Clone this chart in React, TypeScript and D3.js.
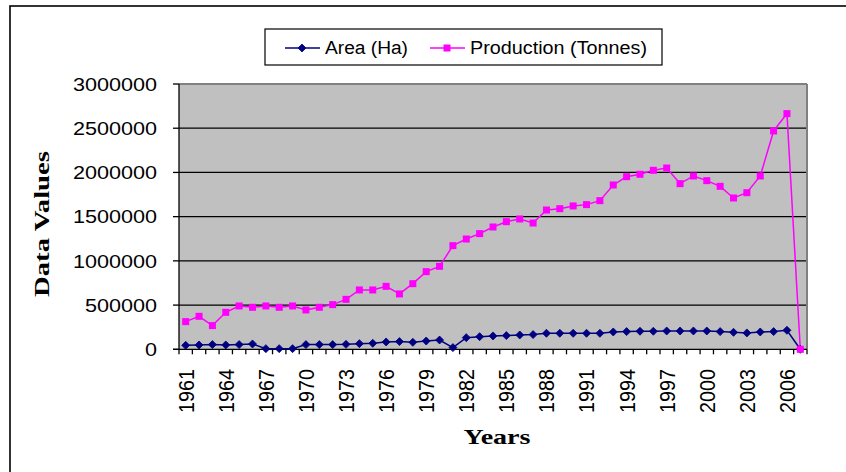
import React from "react";
import * as d3 from "d3";

const years: number[] = [
  1961, 1962, 1963, 1964, 1965, 1966, 1967, 1968, 1969, 1970,
  1971, 1972, 1973, 1974, 1975, 1976, 1977, 1978, 1979, 1980,
  1981, 1982, 1983, 1984, 1985, 1986, 1987, 1988, 1989, 1990,
  1991, 1992, 1993, 1994, 1995, 1996, 1997, 1998, 1999, 2000,
  2001, 2002, 2003, 2004, 2005, 2006, 2007,
];

const areaHa: number[] = [
  45000, 49000, 53000, 49000, 53000, 60000, 7500, 7500, 7500, 53000,
  53000, 53000, 56000, 64000, 68000, 83000, 87000, 79000, 94000, 105000,
  19000, 132000, 143000, 151000, 155000, 162000, 166000, 181000, 181000, 181000,
  181000, 181000, 196000, 200000, 204000, 204000, 207000, 207000, 207000, 207000,
  200000, 192000, 185000, 196000, 200000, 215000, 0,
];

const productionTonnes: number[] = [
  313000, 373000, 268000, 418000, 490000, 475000, 490000, 475000, 490000, 445000,
  475000, 505000, 565000, 671000, 671000, 712000, 626000, 742000, 878000, 938000,
  1172000, 1247000, 1308000, 1383000, 1443000, 1474000, 1428000, 1575000, 1590000, 1621000,
  1636000, 1681000, 1858000, 1952000, 1979000, 2024000, 2050000, 1873000, 1960000, 1907000,
  1843000, 1711000, 1771000, 1960000, 2469000, 2665000, 0,
];

const yTicks: number[] = [0, 500000, 1000000, 1500000, 2000000, 2500000, 3000000];
const xTickLabels: number[] = [
  1961, 1964, 1967, 1970, 1973, 1976, 1979, 1982, 1985, 1988, 1991, 1994, 1997, 2000, 2003, 2006,
];

const seriesNames = ["Area (Ha)", "Production (Tonnes)"];

const W = 846;
const H = 472;
const plotL = 179;
const plotR = 807;
const plotT = 84;
const plotB = 349.3;

const AREA_COLOR = "#000080";
const PROD_COLOR = "#FF00FF";

function Diamond({ x, y, r = 4 }: { x: number; y: number; r?: number }) {
  return (
    <path
      d={`M${x},${y - r}L${x + r},${y}L${x},${y + r}L${x - r},${y}Z`}
      fill={AREA_COLOR}
      stroke={AREA_COLOR}
      strokeWidth={0.8}
    />
  );
}

function Square({ x, y, s = 7 }: { x: number; y: number; s?: number }) {
  return <rect x={x - s / 2} y={y - s / 2} width={s} height={s} fill={PROD_COLOR} />;
}

export default function App() {
  const x = d3
    .scaleBand<number>()
    .domain(years)
    .range([plotL, plotR])
    .padding(0);
  const cx = (yr: number) => (x(yr) as number) + x.bandwidth() / 2;
  const y = d3.scaleLinear().domain([0, 3000000]).range([plotB, plotT]);

  const line = d3
    .line<[number, number]>()
    .x((d) => cx(d[0]))
    .y((d) => y(d[1]));

  const areaPts: [number, number][] = years.map((yr, i) => [yr, areaHa[i]]);
  const prodPts: [number, number][] = years.map((yr, i) => [yr, productionTonnes[i]]);

  const fontSans = "'Liberation Sans', Arial, sans-serif";
  const fontSerif = "'Liberation Serif', 'Times New Roman', serif";

  return (
    <svg
      width={W}
      height={H}
      style={{ position: "absolute", left: 0, top: 0, background: "#fff" }}
    >
      {/* outer chart border */}
      <rect x={10} y={6} width={900} height={600} fill="#fff" stroke="#000" strokeWidth={1.6} />

      {/* plot area */}
      <rect x={plotL} y={plotT} width={plotR - plotL} height={plotB - plotT} fill="#C0C0C0" />
      {yTicks
        .filter((t) => t > 0 && t < 3000000)
        .map((t) => (
          <line key={t} x1={plotL} x2={plotR} y1={y(t)} y2={y(t)} stroke="#000" strokeWidth={1.3} />
        ))}
      <line x1={plotL} x2={plotR} y1={plotT} y2={plotT} stroke="#808080" strokeWidth={2} />
      <line x1={plotR} x2={plotR} y1={plotT} y2={plotB} stroke="#808080" strokeWidth={2} />

      {/* axes */}
      <line x1={plotL} x2={plotL} y1={plotT} y2={plotB + 5} stroke="#000" strokeWidth={1.3} />
      <line x1={plotL - 6} x2={plotR} y1={plotB} y2={plotB} stroke="#000" strokeWidth={1.3} />
      {yTicks.map((t) => (
        <g key={t}>
          <line x1={plotL - 6} x2={plotL} y1={y(t)} y2={y(t)} stroke="#000" strokeWidth={1.3} />
          <text
            x={157}
            y={y(t)}
            dy="0.36em"
            textAnchor="end"
            fontFamily={fontSans}
            fontSize={19}
            textLength={String(t).length * 12}
            lengthAdjust="spacingAndGlyphs"
            fill="#000"
          >
            {t}
          </text>
        </g>
      ))}
      {years.map((yr) => (
        <line
          key={yr}
          x1={(x(yr) as number) + x.bandwidth()}
          x2={(x(yr) as number) + x.bandwidth()}
          y1={plotB}
          y2={plotB + 5}
          stroke="#000"
          strokeWidth={1.3}
        />
      ))}
      {xTickLabels.map((yr) => (
        <text
          key={yr}
          transform={`translate(${cx(yr)},369) rotate(-90)`}
          dy="0.36em"
          textAnchor="end"
          fontFamily={fontSans}
          fontSize={22}
          textLength={44}
          lengthAdjust="spacingAndGlyphs"
          fill="#000"
        >
          {yr}
        </text>
      ))}

      {/* series */}
      <path d={line(areaPts) || ""} fill="none" stroke={AREA_COLOR} strokeWidth={1.5} />
      <path d={line(prodPts) || ""} fill="none" stroke={PROD_COLOR} strokeWidth={1.5} />
      {areaPts.map((p) => (
        <Diamond key={"a" + p[0]} x={cx(p[0])} y={y(p[1])} />
      ))}
      {prodPts.map((p) => (
        <Square key={"p" + p[0]} x={cx(p[0])} y={y(p[1])} />
      ))}

      {/* axis titles */}
      <text
        transform={`translate(49,224) rotate(-90)`}
        textAnchor="middle"
        fontFamily={fontSerif}
        fontWeight="bold"
        fontSize={22}
        textLength={146}
        lengthAdjust="spacingAndGlyphs"
        fill="#000"
      >
        Data Values
      </text>
      <text
        x={497}
        y={444}
        textAnchor="middle"
        fontFamily={fontSerif}
        fontWeight="bold"
        fontSize={22}
        textLength={67}
        lengthAdjust="spacingAndGlyphs"
        fill="#000"
      >
        Years
      </text>

      {/* legend */}
      <rect x={265} y={29} width={397} height={36} fill="#fff" stroke="#000" strokeWidth={1.2} />
      <line x1={285} x2={320} y1={48} y2={48} stroke={AREA_COLOR} strokeWidth={1.5} />
      <Diamond x={302} y={48} />
      <text
        x={325}
        y={48}
        dy="0.36em"
        fontFamily={fontSans}
        fontSize={18}
        textLength={83}
        lengthAdjust="spacingAndGlyphs"
        fill="#000"
      >
        {seriesNames[0]}
      </text>
      <line x1={430} x2={465} y1={48} y2={48} stroke={PROD_COLOR} strokeWidth={1.5} />
      <Square x={447} y={48} />
      <text
        x={470}
        y={48}
        dy="0.36em"
        fontFamily={fontSans}
        fontSize={18}
        textLength={177}
        lengthAdjust="spacingAndGlyphs"
        fill="#000"
      >
        {seriesNames[1]}
      </text>
    </svg>
  );
}
